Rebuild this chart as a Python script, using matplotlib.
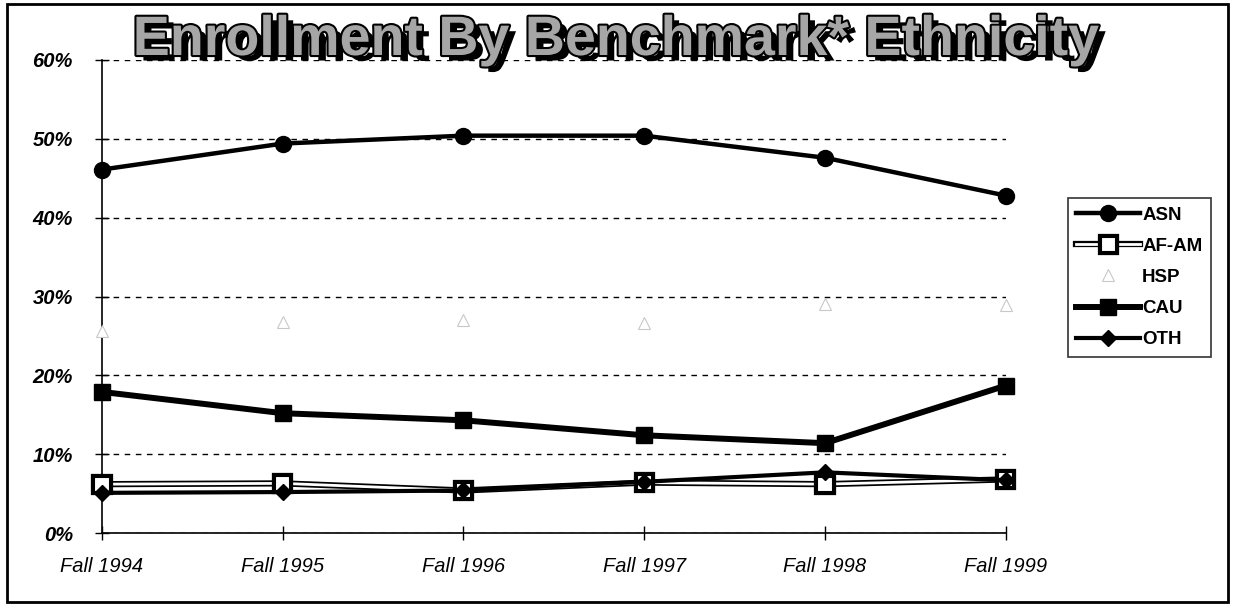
import matplotlib.pyplot as plt
import matplotlib.patheffects as pe
from matplotlib.patches import Rectangle
from matplotlib.ticker import PercentFormatter

years = ["Fall 1994", "Fall 1995", "Fall 1996", "Fall 1997", "Fall 1998", "Fall 1999"]
asn = [0.461, 0.494, 0.504, 0.504, 0.476, 0.428]
afam = [0.062, 0.063, 0.054, 0.064, 0.062, 0.068]
hsp = [0.256, 0.268, 0.270, 0.266, 0.291, 0.289]
cau = [0.179, 0.152, 0.143, 0.124, 0.114, 0.187]
oth = [0.051, 0.052, 0.054, 0.065, 0.077, 0.067]

plt.rcParams['font.family'] = ['Liberation Sans', 'DejaVu Sans']

fig = plt.figure(figsize=(12.33, 6.12), dpi=100)
ax = fig.add_axes([0.0827, 0.129, 0.733, 0.773])
x = list(range(len(years)))

ax.plot(x, asn, color='black', lw=3.2, marker='o', ms=11.5, mfc='black', mec='black',
        label='ASN', zorder=5, clip_on=False)
ax.plot(x, afam, color='white', lw=2, marker='s', ms=11, mfc='white', mec='black', mew=1.5,
        label='AF-AM', zorder=4, clip_on=False,
        path_effects=[pe.Stroke(linewidth=4.5, foreground='black'), pe.Normal()])
ax.plot(x, hsp, color='white', lw=1, marker='^', ms=9, mfc='white', mec='#c8c8c8', mew=0.8,
        label='HSP', zorder=3, clip_on=False)
ax.plot(x, cau, color='black', lw=4.3, marker='s', ms=11, mfc='black', mec='black',
        label='CAU', zorder=5, clip_on=False)
ax.plot(x, oth, color='black', lw=3, marker='D', ms=8.5, mfc='black', mec='black',
        label='OTH', zorder=6, clip_on=False)

ax.set_xlim(0, 5)
ax.set_ylim(0, 0.6)
ax.set_yticks([0, 0.1, 0.2, 0.3, 0.4, 0.5, 0.6])
ax.yaxis.set_major_formatter(PercentFormatter(1.0, decimals=0))
ax.set_xticks(x)
ax.set_xticklabels(years, fontsize=14.5, style='italic')
for t in ax.get_yticklabels():
    t.set_fontsize(14.5)
    t.set_style('italic')
    t.set_fontweight('bold')
ax.grid(axis='y', color='black', linestyle=(0, (4, 4)), lw=1)
ax.tick_params(axis='both', direction='inout', length=10, width=1)
ax.tick_params(axis='x', pad=12)
ax.tick_params(axis='y', pad=16)
for s in ['top', 'right']:
    ax.spines[s].set_visible(False)
ax.spines['left'].set_linewidth(1.2)
ax.spines['bottom'].set_linewidth(1.2)

leg = fig.legend(loc='upper left', bbox_to_anchor=(1068 / 1233, 1 - 198 / 612), fontsize=13.5,
                 frameon=True, fancybox=False, edgecolor='black', handlelength=3.4,
                 labelspacing=0.75, borderpad=0.45, handletextpad=0.1, borderaxespad=0)
leg.get_frame().set_linewidth(1.2)
for t in leg.get_texts():
    t.set_fontweight('bold')

fig.text(0.499, 0.933, "Enrollment By Benchmark* Ethnicity", ha='center', va='center',
         fontsize=40, fontweight='bold', color='#a6a6a6',
         path_effects=[pe.withSimplePatchShadow(offset=(5, -4), shadow_rgbFace='black', alpha=1),
                       pe.Stroke(linewidth=3, foreground='black'), pe.Normal()])

fig.patches.append(Rectangle((7 / 1233, 10 / 612), 1221 / 1233, 598 / 612, transform=fig.transFigure,
                             fill=False, edgecolor='black', lw=2))

fig.savefig('out.png', dpi=100)
